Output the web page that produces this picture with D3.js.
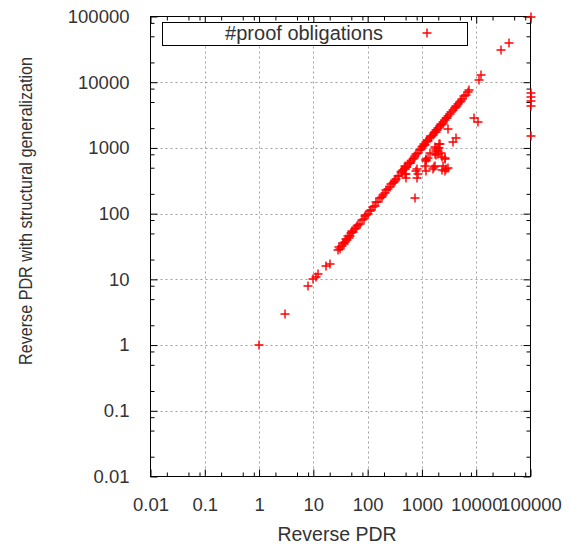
<!DOCTYPE html>
<html><head><meta charset="utf-8">
<script src="https://cdn.jsdelivr.net/npm/d3@7"></script>
<style>
body{margin:0;background:#fff}
text{font-family:"Liberation Sans",Arial,sans-serif;fill:#333}
</style>
</head><body>
<svg id="chart" width="571" height="544"></svg>
<script>
// ---- data ----
const reversePDR = [
  1,3,8,10,11,12,17,20,
  28,30,33,35,38,40,42,44,47,50,54,58,62,67,72,31,36,45,52,63,
  78,85,90,95,102,109,117,126,135,145,155,167,180,193,210,222,238,256,275,294,320,339,380,420,450,480,519,560,597,640,687,740,794,850,912,980,
  1050,1130,1213,1300,1395,1500,1605,1727,1850,1910,2000,2135,2290,2455,2630,2905,3260,3500,3750,4000,4325,4640,4980,5500,6430,7080,7380,
  1000,1100,1250,1450,1650,1800,2200,2400,2800,3000,4200,5200,6000,700,600,500,430,360,310,
  498,490,519,795,795,738,1178,1200,1210,1675,2390,2455,3035,2716,
  1750,1850,1950,2000,2100,2200,2300,1800,2070,3035,4207,3760,10800,9120,
  29150,39800,11300,12500,
  2135,1985,1850,1727,1395,1300,1213,1130,1727,1605,2630,2820,2630,794,835,480,519,
  100000,100000,100000,100000,100000,100000
];
const withStructuralGeneralization = [
  1,3,8,10,11,12,16,17,
  28,31,32,36,37,41,40,45,46,51,53,59,61,68,70,29,34,43,55,65,
  80,84,92,96,100,110,115,128,133,148,152,170,178,195,205,225,236,255,280,290,315,342,375,425,455,470,520,570,600,630,690,745,800,840,920,975,
  1060,1120,1220,1290,1400,1510,1600,1740,1860,1900,2010,2130,2300,2450,2640,2900,3250,3520,3760,4010,4330,4650,5000,5480,6450,7100,7730,
  1020,1150,1300,1480,1700,1750,2250,2350,2850,3050,4150,5250,6100,710,590,505,440,370,300,
  472,530,400,470,353,170,445,650,690,510,460,530,500,670,
  1050,950,900,800,1000,850,740,780,1130,1910,1430,1225,2466,2870,
  30500,39500,10900,12700,
  1130,1007,894,796,845,710,631,530,530,472,710,472,446,446,400,400,353,
  100000,6890,5980,5130,4420,1510
];
const majorTicks = [0.01,0.1,1,10,100,1000,10000,100000];
const tickLabels = ["0.01","0.1","1","10","100","1000","10000","100000"];
const minorMultipliers = [2,5,8];
const seriesName = "#proof obligations";
const xTitle = "Reverse PDR";
const yTitle = "Reverse PDR with structural generalization";

// ---- layout ----
const L = 150.5, R = 530.5, T = 16.5, B = 476.5;
const svg = d3.select("#chart");
svg.append("rect").attr("width",571).attr("height",544).attr("fill","#fff");

const x = d3.scaleLog().domain([0.01,100000]).range([L,R]);
const y = d3.scaleLog().domain([0.01,100000]).range([B,T]);

const minorTicks = [];
majorTicks.slice(0,-1).forEach(m => minorMultipliers.forEach(k => minorTicks.push(m*k)));

// grid
const grid = svg.append("g").attr("stroke","#a0a0a0").attr("stroke-width",1).attr("stroke-dasharray","2,3");
majorTicks.slice(1,-1).forEach(v => {
  grid.append("line").attr("x1",Math.round(x(v))+0.5).attr("x2",Math.round(x(v))+0.5).attr("y1",T).attr("y2",B);
  grid.append("line").attr("y1",Math.round(y(v))+0.5).attr("y2",Math.round(y(v))+0.5).attr("x1",L).attr("x2",R);
});

function styleAxis(g){ g.select(".domain").remove(); g.selectAll("line").attr("stroke","#000"); }
const fmt = (d) => tickLabels[majorTicks.indexOf(d)];

// bottom
const gB = svg.append("g").attr("transform",`translate(0,${B})`)
  .call(d3.axisBottom(x).tickValues(majorTicks).tickFormat(fmt).tickSizeInner(-7).tickSizeOuter(0).tickPadding(21));
gB.selectAll("text").attr("font-size","18.5px").attr("fill","#333");
styleAxis(gB);
const gBm = svg.append("g").attr("transform",`translate(0,${B})`)
  .call(d3.axisBottom(x).tickValues(minorTicks).tickFormat("").tickSizeInner(-4).tickSizeOuter(0));
styleAxis(gBm);
// top
const gT = svg.append("g").attr("transform",`translate(0,${T})`)
  .call(d3.axisTop(x).tickValues(majorTicks).tickFormat("").tickSizeInner(-7).tickSizeOuter(0));
styleAxis(gT);
const gTm = svg.append("g").attr("transform",`translate(0,${T})`)
  .call(d3.axisTop(x).tickValues(minorTicks).tickFormat("").tickSizeInner(-4).tickSizeOuter(0));
styleAxis(gTm);
// left
const gL = svg.append("g").attr("transform",`translate(${L},0)`)
  .call(d3.axisLeft(y).tickValues(majorTicks).tickFormat(fmt).tickSizeInner(-7).tickSizeOuter(0).tickPadding(21));
gL.selectAll("text").attr("font-size","18.5px").attr("fill","#333");
styleAxis(gL);
const gLm = svg.append("g").attr("transform",`translate(${L},0)`)
  .call(d3.axisLeft(y).tickValues(minorTicks).tickFormat("").tickSizeInner(-4).tickSizeOuter(0));
styleAxis(gLm);
// right
const gR = svg.append("g").attr("transform",`translate(${R},0)`)
  .call(d3.axisRight(y).tickValues(majorTicks).tickFormat("").tickSizeInner(-7).tickSizeOuter(0));
styleAxis(gR);
const gRm = svg.append("g").attr("transform",`translate(${R},0)`)
  .call(d3.axisRight(y).tickValues(minorTicks).tickFormat("").tickSizeInner(-4).tickSizeOuter(0));
styleAxis(gRm);

// frame
svg.append("rect").attr("x",L).attr("y",T).attr("width",R-L).attr("height",B-T)
  .attr("fill","none").attr("stroke","#000").attr("stroke-width",1);

// titles
svg.append("text").attr("x",337).attr("y",541).attr("text-anchor","middle")
  .attr("font-size","19.5px").text(xTitle);
svg.append("text").attr("transform","translate(32,211) rotate(-90)").attr("text-anchor","middle")
  .attr("font-size","18px").attr("textLength",308).attr("lengthAdjust","spacingAndGlyphs").text(yTitle);

// legend
svg.append("rect").attr("x",162.5).attr("y",22.5).attr("width",305).attr("height",23)
  .attr("fill","#fff").attr("stroke","#000").attr("stroke-width",1);
svg.append("text").attr("x",383).attr("y",40).attr("text-anchor","end").attr("font-size","20px").text(seriesName);

const plus = (cx,cy,s) => `M${cx-s},${cy}H${cx+s}M${cx},${cy-s}V${cy+s}`;
svg.append("path").attr("d",plus(427,33,4.5)).attr("stroke","#ff0000").attr("stroke-width",1.4).attr("fill","none");

// points
const pts = reversePDR.map((v,i)=>[v,withStructuralGeneralization[i]]);
svg.append("g").selectAll("path").data(pts).join("path")
  .attr("d",d=>plus(Math.round(x(d[0])), Math.round(y(d[1])), 4.5))
  .attr("stroke","#ff0000").attr("stroke-width",1.4).attr("fill","none");
</script>
</body></html>
